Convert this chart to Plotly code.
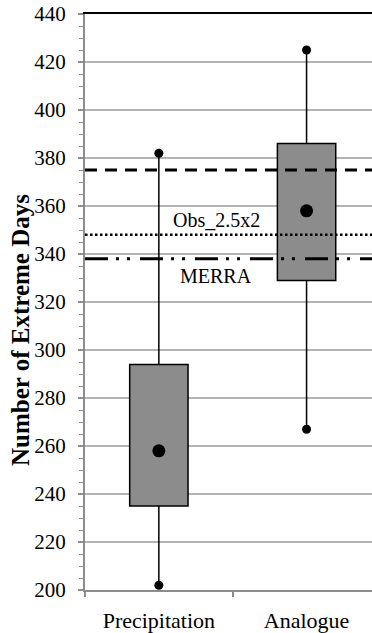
import plotly.graph_objects as go

categories = ["Precipitation", "Analogue"]
q1_vals = [235, 329]
q3_vals = [294, 386]
mean_vals = [258, 358]
min_vals = [202, 267]
max_vals = [382, 425]

ref_names = ["Obs_ref", "Obs_2.5x2", "MERRA"]
ref_values = [375, 348, 338]
y_ticks = [200, 220, 240, 260, 280, 300, 320, 340, 360, 380, 400, 420, 440]

FONT = "'Liberation Serif', 'Times New Roman', serif"
GRID = "#b3b3b3"
AXIS = "#8c8c8c"

fig = go.Figure()

# whiskers (drawn from box edges to extremes)
wx, wy = [], []
for c, lo, q1, q3, hi in zip(categories, min_vals, q1_vals, q3_vals, max_vals):
    wx += [c, c, None, c, c, None]
    wy += [lo, q1, None, q3, hi, None]
fig.add_trace(go.Scatter(x=wx, y=wy, mode="lines", line=dict(color="black", width=1.5),
                         showlegend=False, hoverinfo="skip"))

# boxes as floating bars
fig.add_trace(go.Bar(
    x=categories, y=[b - a for a, b in zip(q1_vals, q3_vals)], base=q1_vals,
    width=0.395, marker=dict(color="#8c8c8c", line=dict(color="black", width=1.5)),
    showlegend=False, hoverinfo="skip",
))

# reference lines on a hidden linear overlay axis spanning the plot width
x_span = [0, 1]
styles = [
    dict(color="black", width=3, dash="12px,8px"),
    dict(color="black", width=2.5, dash="2.5px,2.5px"),
    dict(color="black", width=3, dash="23px,8px,3px,8px,3px,10px"),
]
for name, v, st in zip(ref_names, ref_values, styles):
    fig.add_trace(go.Scatter(x=x_span, y=[v, v], mode="lines", line=st, xaxis="x2",
                             showlegend=False, hoverinfo="skip"))

# whisker end dots
fig.add_trace(go.Scatter(x=categories + categories, y=min_vals + max_vals, mode="markers",
                         marker=dict(color="black", size=9), showlegend=False, hoverinfo="skip"))
# mean dots
fig.add_trace(go.Scatter(x=categories, y=mean_vals, mode="markers",
                         marker=dict(color="black", size=13), showlegend=False, hoverinfo="skip"))

fig.add_annotation(x=0.387, y=354, text="Obs_2.5x2", showarrow=False,
                   font=dict(family=FONT, size=20, color="black"), xanchor="center", yanchor="middle")
fig.add_annotation(x=0.387, y=331, text="MERRA", showarrow=False,
                   font=dict(family=FONT, size=20, color="black"), xanchor="center", yanchor="middle")

fig.add_annotation(xref="paper", yref="paper", x=(20 - 85) / 287, y=(590 - 330) / 576,
                   text="<b>Number of Extreme Days</b>", textangle=-90, showarrow=False,
                   font=dict(family=FONT, size=25, color="black"),
                   xanchor="center", yanchor="middle")

fig.update_layout(
    width=372, height=633,
    margin=dict(l=85, r=0, t=14, b=43),
    paper_bgcolor="white", plot_bgcolor="white",
    font=dict(family=FONT, color="black"),
    barmode="overlay",
    xaxis=dict(
        type="category", range=[-0.5, 1.443],
        showline=True, linecolor=AXIS, linewidth=2,
        ticks="outside", tickson="boundaries", ticklen=5, tickcolor=AXIS, tickwidth=1.5,
        showgrid=False, tickfont=dict(family=FONT, size=22, color="black"),
        ticklabelstandoff=10,
    ),
    xaxis2=dict(
        overlaying="x", side="top", range=[0, 1], showline=True, linecolor="black",
        linewidth=1.5, showgrid=False, showticklabels=False, ticks="", zeroline=False,
    ),
    yaxis=dict(
        range=[200, 440], tickvals=y_ticks,
        showline=True, linecolor=AXIS, linewidth=2,
        ticks="outside", ticklen=5, tickcolor=AXIS, tickwidth=1.5,
        showgrid=True, gridcolor=GRID, gridwidth=1.5,
        zeroline=False,
        minor=dict(dtick=5, ticks="outside", ticklen=4, tickcolor=AXIS, tickwidth=1, showgrid=False),
        tickfont=dict(family=FONT, size=21, color="black"),
        ticklabelstandoff=8,
    ),
)

fig.write_html("out.html")
